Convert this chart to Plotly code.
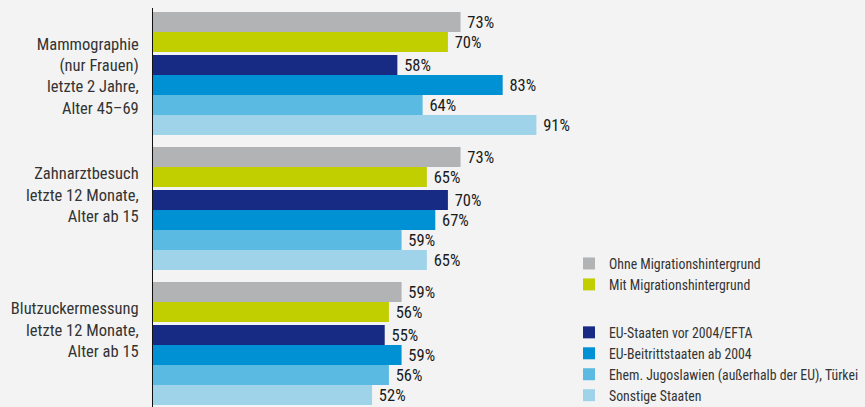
import plotly.graph_objects as go

# Categories (top to bottom) and series
CATEGORIES = [
    "Mammographie<br>(nur Frauen)<br>letzte 2 Jahre,<br>Alter 45–69",
    "Zahnarztbesuch<br>letzte 12 Monate,<br>Alter ab 15",
    "Blutzuckermessung<br>letzte 12 Monate,<br>Alter ab 15",
]

SERIES_NAMES = [
    "Ohne Migrationshintergrund",
    "Mit Migrationshintergrund",
    "EU-Staaten vor 2004/EFTA",
    "EU-Beitrittstaaten ab 2004",
    "Ehem. Jugoslawien (außerhalb der EU), Türkei",
    "Sonstige Staaten",
]

OHNE_MIGRATION = [73, 73, 59]
MIT_MIGRATION = [70, 65, 56]
EU_VOR_2004 = [58, 70, 55]
EU_AB_2004 = [83, 67, 59]
JUGOSLAWIEN_TUERKEI = [64, 59, 56]
SONSTIGE = [91, 65, 52]

SERIES_VALUES = [
    OHNE_MIGRATION,
    MIT_MIGRATION,
    EU_VOR_2004,
    EU_AB_2004,
    JUGOSLAWIEN_TUERKEI,
    SONSTIGE,
]

COLORS = ["#b2b3b5", "#c1ce00", "#172a84", "#0090d4", "#5abae2", "#9ed3ea"]
LEGEND_GROUPS = ["a", "a", "b", "b", "b", "b"]

BG = "#f3f3f3"
FONT = "Roboto Condensed, Liberation Sans Narrow, Arial Narrow, Roboto, sans-serif"

# layout of bar slots (in bar-height units)
GROUP_STEP = 6.75
SUB_GAP = 0.15
# category labels are laid out as 4-line blocks; shorter ones sit higher
LABEL_LINES = 4
LABEL_LINE_SHIFT = 0.8
LABEL_BASE_SHIFT = 0.125


def slot(g, i):
    return g * GROUP_STEP + i + (SUB_GAP if i >= 2 else 0)


fig = go.Figure()

for i, (name, values) in enumerate(zip(SERIES_NAMES, SERIES_VALUES)):
    fig.add_trace(
        go.Bar(
            x=values,
            y=[slot(g, i) for g in range(len(CATEGORIES))],
            orientation="h",
            width=1,
            name=name,
            legendgroup=LEGEND_GROUPS[i],
            marker=dict(color=COLORS[i], line=dict(width=0)),
            text=[f"{v}%" for v in values],
            texttemplate=" %{text}",
            textposition="outside",
            textfont=dict(family=FONT, size=16.5, color="#1a1a1a"),
            cliponaxis=False,
            hoverinfo="skip",
        )
    )

tick_vals = []
for g, label in enumerate(CATEGORIES):
    center = (slot(g, 0) + slot(g, 5)) / 2
    n_lines = label.count("<br>") + 1
    tick_vals.append(center + LABEL_BASE_SHIFT - (LABEL_LINES - n_lines) * LABEL_LINE_SHIFT)

fig.update_layout(
    width=865,
    height=407,
    margin=dict(l=153, r=0, t=8, b=0, autoexpand=False),
    paper_bgcolor=BG,
    plot_bgcolor=BG,
    barmode="overlay",
    font=dict(family=FONT, color="#333333"),
    xaxis=dict(
        range=[0, 169],
        visible=False,
        showgrid=False,
        zeroline=False,
        automargin=False,
    ),
    yaxis=dict(
        range=[19.25, -0.7],
        tickvals=tick_vals,
        ticktext=CATEGORIES,
        tickfont=dict(family=FONT, size=16.5, color="#333333"),
        ticks="outside",
        ticklen=10,
        tickcolor="rgba(0,0,0,0)",
        showline=True,
        linecolor="#111111",
        linewidth=1,
        showgrid=False,
        zeroline=False,
        automargin=False,
    ),
    legend=dict(
        x=(569 - 153) / 712,
        y=1 - (248 - 8) / 399,
        xanchor="left",
        yanchor="top",
        bgcolor="rgba(0,0,0,0)",
        traceorder="grouped",
        tracegroupgap=27,
        font=dict(family=FONT, size=13.8, color="#333333"),
    ),
    showlegend=True,
)

# drop the browser's default page margin so the figure fills the window
fig.write_html(
    "out.html",
    config={"displayModeBar": False},
    post_script="document.body.style.margin='0';document.body.style.background='#f3f3f3';",
)
